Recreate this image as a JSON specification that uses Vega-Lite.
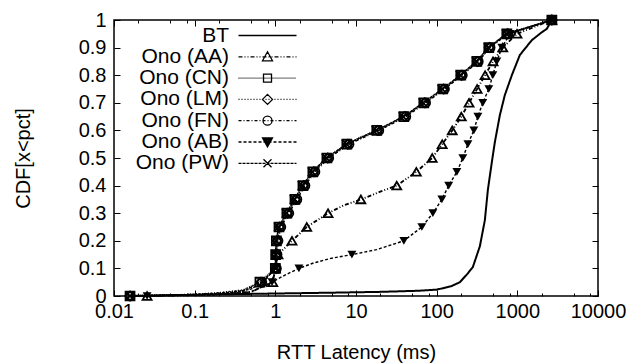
{
  "$schema": "https://vega.github.io/schema/vega-lite/v6.json",
  "width": 484,
  "height": 276,
  "autosize": "none",
  "padding": {"left": 114, "top": 20, "right": 46, "bottom": 68},
  "background": "white",
  "config": {
    "view": {"stroke": "black", "strokeWidth": 1.5},
    "font": "Liberation Sans",
    "axis": {
      "labelFont": "Liberation Sans", "labelFontSize": 20, "labelColor": "black",
      "titleFont": "Liberation Sans", "titleFontSize": 20, "titleFontWeight": "normal", "titleColor": "black",
      "domain": false, "grid": false, "tickColor": "black", "tickWidth": 1,
      "labelFlush": false, "labelOverlap": false
    },
    "legend": {
      "orient": "none", "legendX": 143, "legendY": 5, "padding": 0,
      "labelAlign": "right", "labelOffset": -49, "labelFont": "Liberation Sans", "labelFontSize": 21,
      "labelColor": "black", "labelLimit": 400, "symbolSize": 4, "symbolStrokeWidth": 1.3,
      "rowPadding": -0.7, "symbolOpacity": 1, "symbolStrokeColor": "black"
    }
  },
  "data": {"values": [
    {"s": "BT", "x": 0.015, "y": 0, "p": 0},
    {"s": "BT", "x": 0.05, "y": 0.003, "p": 0},
    {"s": "BT", "x": 0.2, "y": 0.006, "p": 0},
    {"s": "BT", "x": 1, "y": 0.009, "p": 0},
    {"s": "BT", "x": 5, "y": 0.012, "p": 0},
    {"s": "BT", "x": 20, "y": 0.015, "p": 0},
    {"s": "BT", "x": 60, "y": 0.019, "p": 0},
    {"s": "BT", "x": 100, "y": 0.023, "p": 0},
    {"s": "BT", "x": 150, "y": 0.035, "p": 0},
    {"s": "BT", "x": 194, "y": 0.05, "p": 0},
    {"s": "BT", "x": 240, "y": 0.08, "p": 0},
    {"s": "BT", "x": 281, "y": 0.105, "p": 0},
    {"s": "BT", "x": 343, "y": 0.18, "p": 0},
    {"s": "BT", "x": 396, "y": 0.275, "p": 0},
    {"s": "BT", "x": 431, "y": 0.384, "p": 0},
    {"s": "BT", "x": 483, "y": 0.485, "p": 0},
    {"s": "BT", "x": 526, "y": 0.557, "p": 0},
    {"s": "BT", "x": 607, "y": 0.655, "p": 0},
    {"s": "BT", "x": 700, "y": 0.728, "p": 0},
    {"s": "BT", "x": 855, "y": 0.8, "p": 0},
    {"s": "BT", "x": 1074, "y": 0.873, "p": 0},
    {"s": "BT", "x": 1513, "y": 0.927, "p": 0},
    {"s": "BT", "x": 2000, "y": 0.955, "p": 0},
    {"s": "BT", "x": 2322, "y": 0.968, "p": 0},
    {"s": "BT", "x": 2500, "y": 0.985, "p": 0},
    {"s": "BT", "x": 2700, "y": 1, "p": 0},

    {"s": "Ono (AA)", "x": 0.0257, "y": 0, "p": 1},
    {"s": "Ono (AA)", "x": 0.06, "y": 0.002, "p": 0},
    {"s": "Ono (AA)", "x": 0.2, "y": 0.006, "p": 0},
    {"s": "Ono (AA)", "x": 0.5, "y": 0.015, "p": 0},
    {"s": "Ono (AA)", "x": 0.93, "y": 0.05, "p": 1},
    {"s": "Ono (AA)", "x": 1.0, "y": 0.1, "p": 1},
    {"s": "Ono (AA)", "x": 1.08, "y": 0.15, "p": 1},
    {"s": "Ono (AA)", "x": 1.61, "y": 0.2, "p": 1},
    {"s": "Ono (AA)", "x": 2.45, "y": 0.25, "p": 1},
    {"s": "Ono (AA)", "x": 4.5, "y": 0.3, "p": 1},
    {"s": "Ono (AA)", "x": 7, "y": 0.328, "p": 0},
    {"s": "Ono (AA)", "x": 11.5, "y": 0.35, "p": 1},
    {"s": "Ono (AA)", "x": 20, "y": 0.378, "p": 0},
    {"s": "Ono (AA)", "x": 32, "y": 0.4, "p": 1},
    {"s": "Ono (AA)", "x": 56, "y": 0.45, "p": 1},
    {"s": "Ono (AA)", "x": 88, "y": 0.5, "p": 1},
    {"s": "Ono (AA)", "x": 117, "y": 0.55, "p": 1},
    {"s": "Ono (AA)", "x": 156, "y": 0.6, "p": 1},
    {"s": "Ono (AA)", "x": 202, "y": 0.65, "p": 1},
    {"s": "Ono (AA)", "x": 252, "y": 0.7, "p": 1},
    {"s": "Ono (AA)", "x": 317, "y": 0.75, "p": 1},
    {"s": "Ono (AA)", "x": 398, "y": 0.8, "p": 1},
    {"s": "Ono (AA)", "x": 500, "y": 0.85, "p": 1},
    {"s": "Ono (AA)", "x": 660, "y": 0.9, "p": 1},
    {"s": "Ono (AA)", "x": 990, "y": 0.95, "p": 1},
    {"s": "Ono (AA)", "x": 2680, "y": 1, "p": 1},

    {"s": "Ono (CN)", "x": 0.0158, "y": 0, "p": 1},
    {"s": "Ono (CN)", "x": 0.03, "y": 0.002, "p": 0},
    {"s": "Ono (CN)", "x": 0.1, "y": 0.005, "p": 0},
    {"s": "Ono (CN)", "x": 0.2, "y": 0.01, "p": 0},
    {"s": "Ono (CN)", "x": 0.4, "y": 0.02, "p": 0},
    {"s": "Ono (CN)", "x": 0.644, "y": 0.05, "p": 1},
    {"s": "Ono (CN)", "x": 1.0, "y": 0.1, "p": 1},
    {"s": "Ono (CN)", "x": 1.01, "y": 0.15, "p": 1},
    {"s": "Ono (CN)", "x": 1.03, "y": 0.2, "p": 1},
    {"s": "Ono (CN)", "x": 1.11, "y": 0.25, "p": 1},
    {"s": "Ono (CN)", "x": 1.39, "y": 0.3, "p": 1},
    {"s": "Ono (CN)", "x": 1.75, "y": 0.35, "p": 1},
    {"s": "Ono (CN)", "x": 2.2, "y": 0.4, "p": 1},
    {"s": "Ono (CN)", "x": 2.92, "y": 0.45, "p": 1},
    {"s": "Ono (CN)", "x": 4.36, "y": 0.5, "p": 1},
    {"s": "Ono (CN)", "x": 7.7, "y": 0.55, "p": 1},
    {"s": "Ono (CN)", "x": 12, "y": 0.578, "p": 0},
    {"s": "Ono (CN)", "x": 18.1, "y": 0.6, "p": 1},
    {"s": "Ono (CN)", "x": 27, "y": 0.625, "p": 0},
    {"s": "Ono (CN)", "x": 39.2, "y": 0.65, "p": 1},
    {"s": "Ono (CN)", "x": 69.3, "y": 0.7, "p": 1},
    {"s": "Ono (CN)", "x": 119, "y": 0.75, "p": 1},
    {"s": "Ono (CN)", "x": 199, "y": 0.8, "p": 1},
    {"s": "Ono (CN)", "x": 315, "y": 0.85, "p": 1},
    {"s": "Ono (CN)", "x": 443, "y": 0.9, "p": 1},
    {"s": "Ono (CN)", "x": 741, "y": 0.95, "p": 1},
    {"s": "Ono (CN)", "x": 2680, "y": 1, "p": 1},

    {"s": "Ono (LM)", "x": 0.0158, "y": 0, "p": 1},
    {"s": "Ono (LM)", "x": 0.03, "y": 0.002, "p": 0},
    {"s": "Ono (LM)", "x": 0.1, "y": 0.006, "p": 0},
    {"s": "Ono (LM)", "x": 0.2, "y": 0.012, "p": 0},
    {"s": "Ono (LM)", "x": 0.4, "y": 0.022, "p": 0},
    {"s": "Ono (LM)", "x": 0.66, "y": 0.05, "p": 1},
    {"s": "Ono (LM)", "x": 1.02, "y": 0.1, "p": 1},
    {"s": "Ono (LM)", "x": 1.03, "y": 0.15, "p": 1},
    {"s": "Ono (LM)", "x": 1.05, "y": 0.2, "p": 1},
    {"s": "Ono (LM)", "x": 1.13, "y": 0.25, "p": 1},
    {"s": "Ono (LM)", "x": 1.42, "y": 0.3, "p": 1},
    {"s": "Ono (LM)", "x": 1.79, "y": 0.35, "p": 1},
    {"s": "Ono (LM)", "x": 2.25, "y": 0.4, "p": 1},
    {"s": "Ono (LM)", "x": 2.98, "y": 0.45, "p": 1},
    {"s": "Ono (LM)", "x": 4.45, "y": 0.5, "p": 1},
    {"s": "Ono (LM)", "x": 7.9, "y": 0.55, "p": 1},
    {"s": "Ono (LM)", "x": 18.5, "y": 0.6, "p": 1},
    {"s": "Ono (LM)", "x": 40, "y": 0.65, "p": 1},
    {"s": "Ono (LM)", "x": 70.5, "y": 0.7, "p": 1},
    {"s": "Ono (LM)", "x": 121, "y": 0.75, "p": 1},
    {"s": "Ono (LM)", "x": 202, "y": 0.8, "p": 1},
    {"s": "Ono (LM)", "x": 320, "y": 0.85, "p": 1},
    {"s": "Ono (LM)", "x": 450, "y": 0.9, "p": 1},
    {"s": "Ono (LM)", "x": 750, "y": 0.95, "p": 1},
    {"s": "Ono (LM)", "x": 2680, "y": 1, "p": 1},

    {"s": "Ono (FN)", "x": 0.0158, "y": 0, "p": 1},
    {"s": "Ono (FN)", "x": 0.03, "y": 0.002, "p": 0},
    {"s": "Ono (FN)", "x": 0.1, "y": 0.004, "p": 0},
    {"s": "Ono (FN)", "x": 0.2, "y": 0.009, "p": 0},
    {"s": "Ono (FN)", "x": 0.4, "y": 0.018, "p": 0},
    {"s": "Ono (FN)", "x": 0.68, "y": 0.05, "p": 1},
    {"s": "Ono (FN)", "x": 1.03, "y": 0.1, "p": 1},
    {"s": "Ono (FN)", "x": 1.05, "y": 0.15, "p": 1},
    {"s": "Ono (FN)", "x": 1.08, "y": 0.2, "p": 1},
    {"s": "Ono (FN)", "x": 1.17, "y": 0.25, "p": 1},
    {"s": "Ono (FN)", "x": 1.47, "y": 0.3, "p": 1},
    {"s": "Ono (FN)", "x": 1.85, "y": 0.35, "p": 1},
    {"s": "Ono (FN)", "x": 2.33, "y": 0.4, "p": 1},
    {"s": "Ono (FN)", "x": 3.1, "y": 0.45, "p": 1},
    {"s": "Ono (FN)", "x": 4.6, "y": 0.5, "p": 1},
    {"s": "Ono (FN)", "x": 8.2, "y": 0.55, "p": 1},
    {"s": "Ono (FN)", "x": 19.2, "y": 0.6, "p": 1},
    {"s": "Ono (FN)", "x": 41.5, "y": 0.65, "p": 1},
    {"s": "Ono (FN)", "x": 73, "y": 0.7, "p": 1},
    {"s": "Ono (FN)", "x": 125, "y": 0.75, "p": 1},
    {"s": "Ono (FN)", "x": 208, "y": 0.8, "p": 1},
    {"s": "Ono (FN)", "x": 328, "y": 0.85, "p": 1},
    {"s": "Ono (FN)", "x": 460, "y": 0.9, "p": 1},
    {"s": "Ono (FN)", "x": 765, "y": 0.95, "p": 1},
    {"s": "Ono (FN)", "x": 2680, "y": 1, "p": 1},

    {"s": "Ono (AB)", "x": 0.0257, "y": 0, "p": 1},
    {"s": "Ono (AB)", "x": 0.06, "y": 0.002, "p": 0},
    {"s": "Ono (AB)", "x": 0.2, "y": 0.005, "p": 0},
    {"s": "Ono (AB)", "x": 0.5, "y": 0.015, "p": 0},
    {"s": "Ono (AB)", "x": 0.91, "y": 0.05, "p": 1},
    {"s": "Ono (AB)", "x": 1.3, "y": 0.075, "p": 0},
    {"s": "Ono (AB)", "x": 1.96, "y": 0.1, "p": 1},
    {"s": "Ono (AB)", "x": 3, "y": 0.12, "p": 0},
    {"s": "Ono (AB)", "x": 5, "y": 0.137, "p": 0},
    {"s": "Ono (AB)", "x": 8.9, "y": 0.15, "p": 1},
    {"s": "Ono (AB)", "x": 18, "y": 0.168, "p": 0},
    {"s": "Ono (AB)", "x": 39.2, "y": 0.2, "p": 1},
    {"s": "Ono (AB)", "x": 65.5, "y": 0.25, "p": 1},
    {"s": "Ono (AB)", "x": 89.7, "y": 0.3, "p": 1},
    {"s": "Ono (AB)", "x": 116, "y": 0.35, "p": 1},
    {"s": "Ono (AB)", "x": 141, "y": 0.4, "p": 1},
    {"s": "Ono (AB)", "x": 178, "y": 0.45, "p": 1},
    {"s": "Ono (AB)", "x": 211, "y": 0.5, "p": 1},
    {"s": "Ono (AB)", "x": 244, "y": 0.55, "p": 1},
    {"s": "Ono (AB)", "x": 289, "y": 0.6, "p": 1},
    {"s": "Ono (AB)", "x": 324, "y": 0.65, "p": 1},
    {"s": "Ono (AB)", "x": 373, "y": 0.7, "p": 1},
    {"s": "Ono (AB)", "x": 443, "y": 0.75, "p": 1},
    {"s": "Ono (AB)", "x": 497, "y": 0.8, "p": 1},
    {"s": "Ono (AB)", "x": 557, "y": 0.85, "p": 1},
    {"s": "Ono (AB)", "x": 643, "y": 0.9, "p": 1},
    {"s": "Ono (AB)", "x": 807, "y": 0.95, "p": 1},
    {"s": "Ono (AB)", "x": 2680, "y": 1, "p": 1},

    {"s": "Ono (PW)", "x": 0.0158, "y": 0, "p": 1},
    {"s": "Ono (PW)", "x": 0.03, "y": 0.002, "p": 0},
    {"s": "Ono (PW)", "x": 0.1, "y": 0.005, "p": 0},
    {"s": "Ono (PW)", "x": 0.3, "y": 0.012, "p": 0},
    {"s": "Ono (PW)", "x": 0.5, "y": 0.025, "p": 0},
    {"s": "Ono (PW)", "x": 0.7, "y": 0.05, "p": 1},
    {"s": "Ono (PW)", "x": 1.0, "y": 0.1, "p": 1},
    {"s": "Ono (PW)", "x": 1.01, "y": 0.15, "p": 1},
    {"s": "Ono (PW)", "x": 1.02, "y": 0.2, "p": 1},
    {"s": "Ono (PW)", "x": 1.1, "y": 0.25, "p": 1},
    {"s": "Ono (PW)", "x": 1.37, "y": 0.3, "p": 1},
    {"s": "Ono (PW)", "x": 1.72, "y": 0.35, "p": 1},
    {"s": "Ono (PW)", "x": 2.16, "y": 0.4, "p": 1},
    {"s": "Ono (PW)", "x": 2.87, "y": 0.45, "p": 1},
    {"s": "Ono (PW)", "x": 4.28, "y": 0.5, "p": 1},
    {"s": "Ono (PW)", "x": 7.6, "y": 0.55, "p": 1},
    {"s": "Ono (PW)", "x": 17.8, "y": 0.6, "p": 1},
    {"s": "Ono (PW)", "x": 38.5, "y": 0.65, "p": 1},
    {"s": "Ono (PW)", "x": 68, "y": 0.7, "p": 1},
    {"s": "Ono (PW)", "x": 117, "y": 0.75, "p": 1},
    {"s": "Ono (PW)", "x": 196, "y": 0.8, "p": 1},
    {"s": "Ono (PW)", "x": 310, "y": 0.85, "p": 1},
    {"s": "Ono (PW)", "x": 437, "y": 0.9, "p": 1},
    {"s": "Ono (PW)", "x": 730, "y": 0.95, "p": 1},
    {"s": "Ono (PW)", "x": 2680, "y": 1, "p": 1}
  ]},
  "layer": [
    {
      "mark": {"type": "line", "color": "black"},
      "encoding": {
        "x": {"field": "x", "type": "quantitative",
          "scale": {"type": "log", "domain": [0.01, 10000], "nice": false},
          "axis": {"orient": "bottom", "title": "RTT Latency (ms)", "titlePadding": 18,
            "values": [0.01, 0.02, 0.05, 0.08, 0.1, 0.2, 0.5, 0.8, 1, 2, 5, 8, 10, 20, 50, 80, 100, 200, 500, 800, 1000, 2000, 5000, 8000, 10000],
            "format": "~g",
            "labelExpr": "abs(log(datum.value)/LN10 - round(log(datum.value)/LN10)) < 0.001 ? datum.label : ''",
            "tickSize": {"condition": {"test": "abs(log(datum.value)/LN10 - round(log(datum.value)/LN10)) < 0.001", "value": -6}, "value": -3},
            "labelPadding": 11}},
        "y": {"field": "y", "type": "quantitative",
          "scale": {"domain": [0, 1], "nice": false},
          "axis": {"orient": "left", "title": "CDF[x<pct]", "titlePadding": 45,
            "values": [0, 0.1, 0.2, 0.3, 0.4, 0.5, 0.6, 0.7, 0.8, 0.9, 1],
            "format": "~g", "tickSize": -6, "labelPadding": 14}},
        "strokeDash": {"field": "s", "type": "nominal",
          "scale": {"domain": ["BT", "Ono (AA)", "Ono (CN)", "Ono (LM)", "Ono (FN)", "Ono (AB)", "Ono (PW)"],
            "range": [[1, 0], [4, 2, 1, 2, 1, 2], [1, 1], [1, 2], [3, 2, 1, 2], [3, 2], [3, 1]]},
          "legend": null},
        "strokeWidth": {"field": "s", "type": "nominal",
          "scale": {"domain": ["BT", "Ono (AA)", "Ono (CN)", "Ono (LM)", "Ono (FN)", "Ono (AB)", "Ono (PW)"],
            "range": [2, 1.3, 1.3, 1.3, 1.3, 1.8, 1.3]},
          "legend": null},
        "order": {"field": "y", "type": "quantitative"}
      }
    },
    {
      "transform": [{"filter": "datum.p == 1 && datum.s != 'BT' && datum.s != 'Ono (AB)'"}],
      "mark": {"type": "point", "filled": false, "color": "black", "strokeWidth": 1.8, "size": 80, "opacity": 1},
      "encoding": {
        "x": {"field": "x", "type": "quantitative",
          "axis": {"orient": "top", "title": null, "labels": false,
            "values": [0.01, 0.02, 0.05, 0.08, 0.1, 0.2, 0.5, 0.8, 1, 2, 5, 8, 10, 20, 50, 80, 100, 200, 500, 800, 1000, 2000, 5000, 8000, 10000],
            "tickSize": {"condition": {"test": "abs(log(datum.value)/LN10 - round(log(datum.value)/LN10)) < 0.001", "value": -6}, "value": -3}}},
        "y": {"field": "y", "type": "quantitative",
          "axis": {"orient": "right", "title": null, "labels": false,
            "values": [0, 0.1, 0.2, 0.3, 0.4, 0.5, 0.6, 0.7, 0.8, 0.9, 1], "tickSize": -6}},
        "shape": {"field": "s", "type": "nominal",
          "scale": {"domain": ["Ono (AA)", "Ono (CN)", "Ono (LM)", "Ono (FN)", "Ono (PW)"],
            "range": ["triangle-up", "square", "diamond", "circle", "M-1,-1L1,1M-1,1L1,-1"]},
          "legend": null}
      }
    },
    {
      "transform": [{"filter": "datum.p == 1 && datum.s == 'Ono (AB)'"}],
      "mark": {"type": "point", "filled": true, "color": "black", "shape": "triangle-down", "size": 80, "opacity": 1},
      "encoding": {
        "x": {"field": "x", "type": "quantitative", "axis": null},
        "y": {"field": "y", "type": "quantitative", "axis": null}
      }
    },
    {
      "data": {"values": []},
      "mark": {"type": "point", "filled": false, "color": "black", "strokeWidth": 1.3, "size": 4, "opacity": 1},
      "encoding": {
        "shape": {"field": "s", "type": "nominal",
          "scale": {"domain": ["BT", "Ono (AA)", "Ono (CN)", "Ono (LM)", "Ono (FN)", "Ono (AB)", "Ono (PW)"],
            "range": [
              "M0,-5L0,-5M-29,0H29M0,5L0,5",
              "M-29,0H-25M-23,0H-22M-20,0H-19M-17,0H-13M-11,0H-10M-8,0H-7M-5,0H-1M1,0H2M4,0H5M7,0H11M13,0H14M16,0H17M19,0H23M25,0H26M28,0H29M0,-5L5,4L-5,4Z",
              "M-29,0H-28M-27,0H-26M-25,0H-24M-23,0H-22M-21,0H-20M-19,0H-18M-17,0H-16M-15,0H-14M-13,0H-12M-11,0H-10M-9,0H-8M-7,0H-6M-5,0H-4M-3,0H-2M-1,0H0M1,0H2M3,0H4M5,0H6M7,0H8M9,0H10M11,0H12M13,0H14M15,0H16M17,0H18M19,0H20M21,0H22M23,0H24M25,0H26M27,0H28M-4,-4H4V4H-4Z",
              "M-29,0H-28M-26,0H-25M-23,0H-22M-20,0H-19M-17,0H-16M-14,0H-13M-11,0H-10M-8,0H-7M-5,0H-4M-2,0H-1M1,0H2M4,0H5M7,0H8M10,0H11M13,0H14M16,0H17M19,0H20M22,0H23M25,0H26M28,0H29M0,-5L5,0L0,5L-5,0Z",
              "M-29,0H-26M-24,0H-23M-21,0H-18M-16,0H-15M-13,0H-10M-8,0H-7M-5,0H-2M0,0H1M3,0H6M8,0H9M11,0H14M16,0H17M19,0H22M24,0H25M27,0H29M4.5,0A4.5,4.5,0,1,1,-4.5,0A4.5,4.5,0,1,1,4.5,0Z",
              "M-29,0H-26M-24,0H-21M-19,0H-16M-14,0H-11M-9,0H-6M-4,0H-1M1,0H4M6,0H9M11,0H14M16,0H19M21,0H24M26,0H29M-5,-4L5,-4L0,5ZM-3.2,-2.8L3.2,-2.8L0,2.8ZM-1.4,-1.8L1.4,-1.8L0,0.6Z",
              "M-29,0H-26M-25,0H-22M-21,0H-18M-17,0H-14M-13,0H-10M-9,0H-6M-5,0H-2M-1,0H2M3,0H6M7,0H10M11,0H14M15,0H18M19,0H22M23,0H26M27,0H29M-4,-4L4,4M-4,4L4,-4"
            ]},
          "legend": {"title": null}}
      }
    }
  ],
  "resolve": {"scale": {"shape": "independent"}, "axis": {"x": "independent", "y": "independent"}}
}
